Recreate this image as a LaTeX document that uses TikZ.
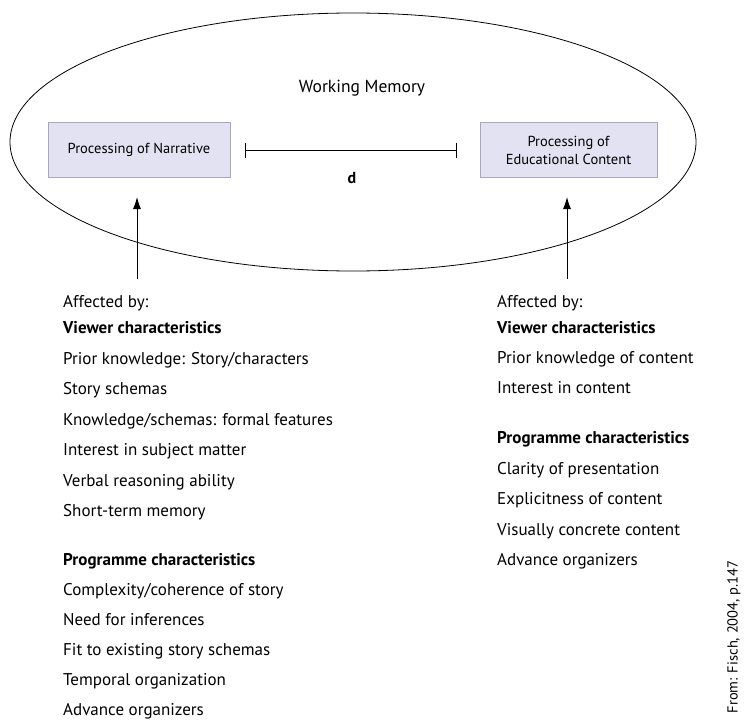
\documentclass[tikz,border=0pt]{standalone}
\usepackage{fontspec}
\setmainfont{PT Sans}
\usetikzlibrary{arrows.meta,shapes.geometric}
\definecolor{boxfill}{HTML}{E2E2F2}
\definecolor{boxline}{HTML}{A8A8B8}

\begin{document}
\begin{tikzpicture}[x=1pt,y=-1pt,
    procbox/.style={draw=boxline,fill=boxfill,minimum height=55pt,font=\fontsize{14.5}{18}\selectfont,align=center,inner sep=0pt},
    item/.style={anchor=base west,inner sep=0pt,font=\fontsize{17}{20}\selectfont},
    head/.style={item,font=\fontsize{17}{20}\selectfont\bfseries}]
    \useasboundingbox (0,0) rectangle (750,720);
    % working memory
    \node[draw,ellipse,minimum width=686pt,minimum height=258pt,inner sep=0pt,line width=0.8pt] (wm) at (353,142) {};
    \node[font=\fontsize{17.5}{20}\selectfont] (wmlabel) at (362,88) {Working Memory};
    \node[procbox,minimum width=182pt] (narr) at (139,149.5) {Processing of Narrative};
    \node[procbox,minimum width=177pt] (edu) at (568.5,150) {Processing of\\Educational Content};
    % distance
    \coordinate (dL) at (245,150);
    \coordinate (dR) at (457,150);
    \draw[line width=0.9pt,{Bar[width=15pt]}-{Bar[width=15pt]}] (dL) -- (dR);
    \node[font=\fontsize{16}{18}\selectfont\bfseries] (dist) at (352,178) {d};
    % arrows
    \coordinate (srcL) at (137,279);
    \coordinate (tipL) at (137,197);
    \coordinate (srcR) at (567,279);
    \coordinate (tipR) at (567,197);
    \draw[-{Latex[length=12pt,width=8pt]},line width=0.9pt] (srcL) -- (tipL);
    \draw[-{Latex[length=12pt,width=8pt]},line width=0.9pt] (srcR) -- (tipR);
    % left column
    \node[item] (la) at (63,307) {Affected by:};
    \node[head] (lv) at (63,333.5) {Viewer characteristics};
    \foreach \t [count=\i] in {Prior knowledge: Story/characters,Story schemas,Knowledge/schemas: formal features,Interest in subject matter,Verbal reasoning ability,Short-term memory}
      \node[item] (lv\i) at (63,333.5+30.5*\i) {\t};
    \node[head] (lp) at (63,565.5) {Programme characteristics};
    \foreach \t [count=\i] in {Complexity/coherence of story,Need for inferences,Fit to existing story schemas,Temporal organization,Advance organizers}
      \node[item] (lp\i) at (63,565.5+30*\i) {\t};
    % right column
    \node[item] (ra) at (497,307.5) {Affected by:};
    \node[head] (rv) at (497,333) {Viewer characteristics};
    \foreach \t [count=\i] in {Prior knowledge of content,Interest in content}
      \node[item] (rv\i) at (497,333+30.3*\i) {\t};
    \node[head] (rp) at (497,443.5) {Programme characteristics};
    \foreach \t [count=\i] in {Clarity of presentation,Explicitness of content,Visually concrete content,Advance organizers}
      \node[item] (rp\i) at (497,443.5+30.5*\i) {\t};
    % source
    \node[rotate=90,font=\fontsize{14.5}{16}\selectfont] (src) at (734,637) {From: Fisch, 2004, p.147};
  \end{tikzpicture}
\end{document}
